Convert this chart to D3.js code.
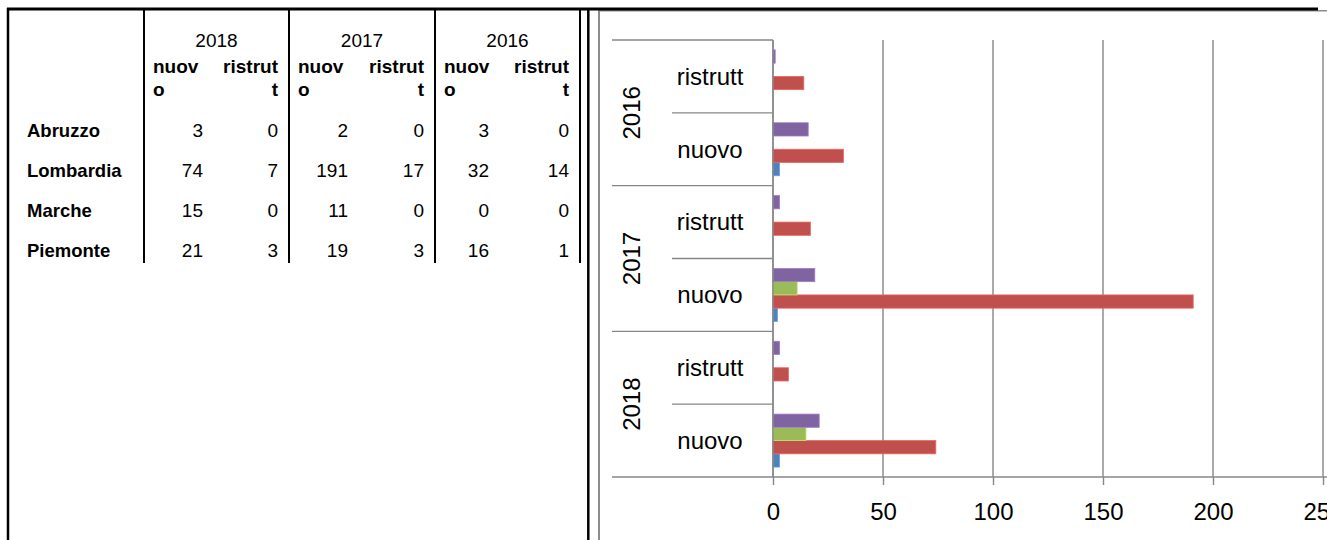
<!DOCTYPE html>
<html>
<head>
<meta charset="utf-8">
<script src="https://cdn.jsdelivr.net/npm/d3@7"></script>
<style>
  body { margin: 0; background: #fff; }
  svg { display: block; font-family: "Liberation Sans", Arial, sans-serif; }
</style>
</head>
<body>
<div id="sheet"></div>
<script>
// Table / chart data
const regions = ['Abruzzo', 'Lombardia', 'Marche', 'Piemonte'];
const years = ['2018', '2017', '2016'];
const types = ['nuovo', 'ristrutt'];

// values per region, columns: 2018 nuovo, 2018 ristrutt, 2017 nuovo, 2017 ristrutt, 2016 nuovo, 2016 ristrutt
const abruzzo = [3, 0, 2, 0, 3, 0];
const lombardia = [74, 7, 191, 17, 32, 14];
const marche = [15, 0, 11, 0, 0, 0];
const piemonte = [21, 3, 19, 3, 16, 1];
const regionValues = [abruzzo, lombardia, marche, piemonte];

const seriesColors = ['#4f81bd', '#c0504d', '#9bbb59', '#8064a2'];
const xTicks = [0, 50, 100, 150, 200, 250];

const W = 1327, H = 540;
const svg = d3.select('#sheet').append('svg')
  .attr('width', W)
  .attr('height', H);

// ---------- spreadsheet table ----------
const colEdges = [144, 289, 435, 580];
const table = svg.append('g').attr('class', 'table');

years.forEach((yr, i) => {
  const left = colEdges[i], right = colEdges[i + 1];
  table.append('text')
    .attr('x', (left + right) / 2)
    .attr('y', 47)
    .attr('text-anchor', 'middle')
    .style('font-size', '19px')
    .text(yr);

  // wrapped headers: "nuov" / "o" and "ristrut" / "t"
  types.forEach((t, j) => {
    const head = [t.slice(0, -1), t.slice(-1)];
    head.forEach((line, k) => {
      table.append('text')
        .attr('x', j === 0 ? left + 9 : right - 11)
        .attr('y', 73 + k * 23)
        .attr('text-anchor', j === 0 ? 'start' : 'end')
        .style('font-size', '19px')
        .style('font-weight', 'bold')
        .text(line);
    });
  });
});

regions.forEach((r, ri) => {
  const y = 137 + ri * 40;
  table.append('text')
    .attr('x', 27)
    .attr('y', y)
    .style('font-size', '18.5px')
    .style('font-weight', 'bold')
    .text(r);

  regionValues[ri].forEach((v, ci) => {
    const yi = Math.floor(ci / 2);
    const left = colEdges[yi], right = colEdges[yi + 1];
    table.append('text')
      .attr('x', ci % 2 === 0 ? left + 59 - (yi === 2 ? 5 : 0) : right - 11)
      .attr('y', y)
      .attr('text-anchor', 'end')
      .style('font-size', '19px')
      .text(v);
  });
});

// ---------- bar chart ----------
const plot = { left: 773, right: 1323, top: 40, bottom: 477 };

// categories from top to bottom: 2016 ristrutt, 2016 nuovo, 2017 ... 2018 nuovo
const chartYears = years.slice().reverse();
const cats = [];
chartYears.forEach(yr => types.slice().reverse().forEach(t => cats.push(yr + '|' + t)));

const x = d3.scaleLinear().domain([0, 250]).range([plot.left, plot.right]);
const y = d3.scaleBand().domain(cats).range([plot.top, plot.bottom]);
const yInner = d3.scaleBand()
  .domain(regions.slice().reverse())
  .range([0, y.bandwidth()])
  .paddingInner(0)
  .paddingOuter(0.75);

const chart = svg.append('g').attr('class', 'chart');
const grid = '#878787';

// vertical gridlines
chart.append('g')
  .selectAll('line')
  .data(xTicks)
  .enter()
  .append('line')
  .attr('x1', d => x(d)).attr('x2', d => x(d))
  .attr('y1', plot.top).attr('y2', plot.bottom)
  .style('stroke', grid)
  .style('stroke-width', '1.4px');

// bottom value axis
const xAxis = chart.append('g')
  .attr('transform', `translate(0,${plot.bottom})`)
  .call(d3.axisBottom(x).tickValues(xTicks).tickSize(8).tickPadding(18).tickSizeOuter(0));
xAxis.select('.domain').remove();
xAxis.selectAll('.tick line').style('stroke', grid).style('stroke-width', '1.4px');
xAxis.selectAll('.tick text')
  .style('font-family', '"Liberation Sans", Arial, sans-serif')
  .style('font-size', '24px')
  .style('fill', '#000');
chart.append('line')
  .attr('x1', 612).attr('x2', W)
  .attr('y1', plot.bottom).attr('y2', plot.bottom)
  .style('stroke', grid)
  .style('stroke-width', '1.4px');

// category divider lines (two levels)
cats.forEach((c, i) => {
  if (i === 0) return;
  const outer = i % 2 === 0;
  chart.append('line')
    .attr('x1', outer ? 612 : 672).attr('x2', plot.left)
    .attr('y1', y(c)).attr('y2', y(c))
    .style('stroke', grid)
    .style('stroke-width', '1.4px');
});
chart.append('line')
  .attr('x1', 612).attr('x2', plot.left)
  .attr('y1', plot.top).attr('y2', plot.top)
  .style('stroke', grid)
  .style('stroke-width', '1.4px');

// sub-category labels
chart.selectAll('.cat-label')
  .data(cats)
  .enter()
  .append('text')
  .attr('class', 'cat-label')
  .attr('x', 710)
  .attr('y', d => y(d) + y.bandwidth() / 2)
  .attr('dy', '0.35em')
  .attr('text-anchor', 'middle')
  .style('font-size', '24px')
  .text(d => d.split('|')[1]);

// year labels, rotated
chart.selectAll('.year-label')
  .data(chartYears)
  .enter()
  .append('text')
  .attr('class', 'year-label')
  .attr('transform', d => `translate(632,${y(d + '|ristrutt')+ y.bandwidth()}) rotate(-90)`)
  .attr('dy', '0.35em')
  .attr('text-anchor', 'middle')
  .style('font-size', '24px')
  .text(d => d);

// bars
const barData = [];
regions.forEach((r, ri) => {
  years.forEach((yr, yi) => {
    types.forEach((t, ti) => {
      barData.push({ region: r, cat: yr + '|' + t, value: regionValues[ri][yi * 2 + ti], color: seriesColors[ri] });
    });
  });
});

chart.append('g')
  .selectAll('rect')
  .data(barData.filter(d => d.value > 0))
  .enter()
  .append('rect')
  .attr('x', x(0))
  .attr('y', d => y(d.cat) + yInner(d.region))
  .attr('width', d => x(d.value) - x(0))
  .attr('height', yInner.bandwidth())
  .style('fill', d => d.color)
  .style('stroke', d => d3.color(d.color).brighter(0.6))
  .style('stroke-width', '0.8px');

// category axis line
chart.append('line')
  .attr('x1', plot.left).attr('x2', plot.left)
  .attr('y1', plot.top).attr('y2', plot.bottom)
  .style('stroke', grid)
  .style('stroke-width', '1.4px');

// ---------- frames ----------
const frame = svg.append('g').attr('class', 'frame');
// chart area border (grey)
frame.append('line').attr('x1', 599).attr('x2', 599).attr('y1', 10).attr('y2', H)
  .style('stroke', '#8c8c8c').style('stroke-width', '2px');
frame.append('line').attr('x1', 599).attr('x2', W).attr('y1', 10.7).attr('y2', 10.7)
  .style('stroke', '#8c8c8c').style('stroke-width', '1.5px');
// table borders (black)
frame.append('line').attr('x1', 7).attr('x2', 1318).attr('y1', 9).attr('y2', 9)
  .style('stroke', '#000').style('stroke-width', '3px');
frame.append('line').attr('x1', 8).attr('x2', 8).attr('y1', 8).attr('y2', H)
  .style('stroke', '#000').style('stroke-width', '2.5px');
frame.append('line').attr('x1', 588.3).attr('x2', 588.3).attr('y1', 8).attr('y2', H)
  .style('stroke', '#000').style('stroke-width', '2.5px');
colEdges.forEach(cx => {
  frame.append('line').attr('x1', cx).attr('x2', cx).attr('y1', 8).attr('y2', 263)
    .style('stroke', '#000').style('stroke-width', '2px');
});
</script>
</body>
</html>
